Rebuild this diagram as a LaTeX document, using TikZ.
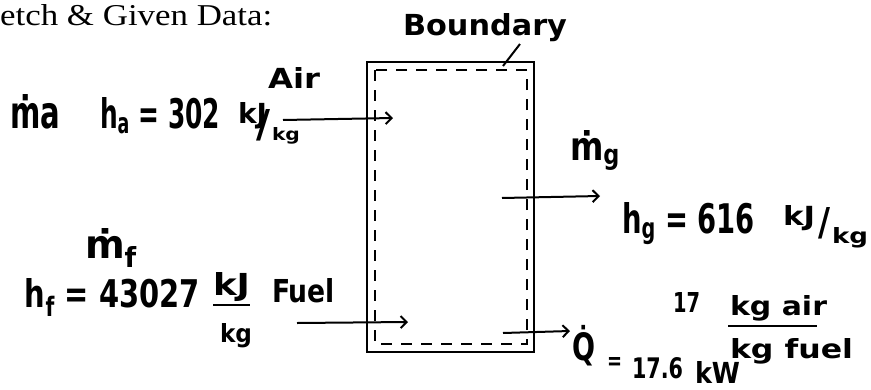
\documentclass[tikz,border=0pt]{standalone}
\usepackage{fontspec}
\usepackage{graphicx}
\setmainfont{Liberation Serif}
\newfontfamily\hw{DejaVu Sans}
\usetikzlibrary{arrows.meta}
\XeTeXuseglyphmetrics=1
\newcommand\fitbox[3]{\resizebox{#1pt}{#2pt}{#3}}
\tikzset{
  hand/.style={inner sep=0pt, outer sep=0pt, anchor=base west, font=\hw\bfseries\fontsize{30}{30}\selectfont},
  flow/.style={line width=2pt, -{Straight Barb[length=6pt,width=12pt,line width=2pt]}},
  lead/.style={line width=2pt},
  fracrule/.style={line width=2.2pt},
  outerbox/.style={line width=2.4pt},
  innerbox/.style={line width=2.2pt, dash pattern=on 11pt off 9pt}
}
\begin{document}
\begin{tikzpicture}[x=1pt,y=-1pt]
\fill[white] (0,0) rectangle (871,389);
\useasboundingbox (0,0) rectangle (871,389);

% title
\node[inner sep=0pt, anchor=base west, font=\fontsize{30}{30}\selectfont] (title) at (0,25) {\fitbox{272}{21}{etch \& Given Data:}};

% control volume
\draw[outerbox] (367,62) rectangle (534,352);
\draw[innerbox] (375,70) rectangle (527,344);

% air inlet labels
\node[hand] (ma) at (10,128) {\fitbox{50}{34}{ṁa}};
\node[hand] (ha) at (100,128) {\fitbox{120}{31}{h\textsubscript{a} = 302}};
\node[hand] (kja) at (238,123) {\fitbox{29}{21}{kJ}};
\node[hand] (sla) at (256,137) {\fitbox{14}{28}{/}};
\node[hand] (kga) at (272,140) {\fitbox{28}{13}{kg}};
\node[hand] (air) at (268,88) {\fitbox{52}{21}{Air}};

% boundary
\node[hand] (bnd) at (403,35) {\fitbox{164}{22}{Boundary}};

% exhaust labels
\node[hand] (mg) at (570,160) {\fitbox{50}{30}{ṁ\textsubscript{g}}};
\node[hand] (hg) at (622,233) {\fitbox{133}{31}{h\textsubscript{g} = 616}};
\node[hand] (kjg) at (783,225) {\fitbox{32}{20}{kJ}};
\node[hand] (slg) at (818,235) {\fitbox{12}{28}{/}};
\node[hand] (kgg) at (832,243) {\fitbox{36}{16}{kg}};

% fuel labels
\node[hand] (mf) at (85,258) {\fitbox{52}{30}{ṁ\textsubscript{f}}};
\node[hand] (hf) at (25,307) {\fitbox{175}{29}{h\textsubscript{f} = 43027}};
\node[hand] (kjf) at (213,295) {\fitbox{37}{23}{kJ}};
\node[hand] (kgf) at (220,342) {\fitbox{32}{19}{kg}};
\node[hand] (fuel) at (272,302) {\fitbox{63}{24}{Fuel}};

% air-fuel ratio
\node[hand] (r17) at (673,312) {\fitbox{27}{20}{17}};
\node[hand] (kgair) at (730,315) {\fitbox{97}{20}{kg air}};
\node[hand] (kgfuel) at (730,358) {\fitbox{123}{20}{kg fuel}};

% heat
\node[hand] (q) at (572,360) {\fitbox{23}{35}{\.Q}};
\node[hand] (qeq) at (607,369) {\fitbox{15}{12}{=}};
\node[hand] (qv) at (632,378) {\fitbox{51}{21}{17.6}};
\node[hand] (kw) at (695,383) {\fitbox{45}{22}{kW}};

% fraction rules
\draw[fracrule] (213,305) -- (250,305);
\draw[fracrule] (728,326) -- (817,326);

% boundary leader
\coordinate (bndS) at (520,44);
\coordinate (bndE) at (503,66);
\draw[lead] (bndS) -- (bndE);

% flow arrows
\coordinate (airS) at (283,120);
\coordinate (airE) at (393,118);
\draw[flow] (airS) -- (airE);
\coordinate (gS) at (502,198);
\coordinate (gE) at (600,196);
\draw[flow] (gS) -- (gE);
\coordinate (fS) at (297,323);
\coordinate (fE) at (408,322);
\draw[flow] (fS) -- (fE);
\coordinate (qS) at (503,333);
\coordinate (qE) at (570,331);
\draw[flow] (qS) -- (qE);
\end{tikzpicture}
\end{document}
